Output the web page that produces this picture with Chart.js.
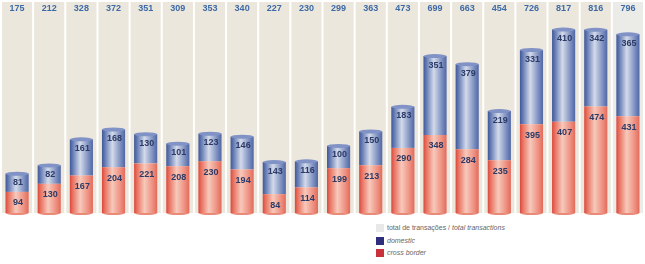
<!DOCTYPE html>
<html>
<head>
<meta charset="utf-8">
<script src="https://cdn.jsdelivr.net/npm/chart.js@4/dist/chart.umd.min.js"></script>
<style>
  body { margin: 0; background: #fff; font-family: "Liberation Sans", Arial, sans-serif; }
  #wrap { position: relative; width: 645px; height: 215px; }
  #legend { position: absolute; left: 376px; top: 224px; font-size: 7px; color: #666; }
  #legend div { height: 12.5px; line-height: 8px; }
  #legend span.box { display: inline-block; width: 8px; height: 8px; vertical-align: top; margin-right: 3px; }
</style>
</head>
<body>
<div id="wrap"><canvas id="chart" width="645" height="215"></canvas></div>
<div id="legend">
  <div><span class="box" style="background:#e8e8e8"></span>total de transações / <i>total transactions</i></div>
  <div><span class="box" style="background:#2e2f7c"></span><i>domestic</i></div>
  <div><span class="box" style="background:#c9323c"></span><i>cross border</i></div>
</div>
<script>
/* --------------- Data --------------- */
const categories = ["1", "2", "3", "4", "5", "6", "7", "8", "9", "10", "11", "12", "13", "14", "15", "16", "17", "18", "19", "20"];
const totals = [175, 212, 328, 372, 351, 309, 353, 340, 227, 230, 299, 363, 473, 699, 663, 454, 726, 817, 816, 796];
const domestic = [81, 82, 161, 168, 130, 101, 123, 146, 143, 116, 100, 150, 183, 351, 379, 219, 331, 410, 342, 365];
const crossBorder = [94, 130, 167, 204, 221, 208, 230, 194, 84, 114, 199, 213, 290, 348, 284, 235, 395, 407, 474, 431];
const yMax = 940;
const barPct = 0.72;

/* --------------- Cylinder gradients --------------- */
const redStops = [[0, "#d9483c"], [0.12, "#e8705f"], [0.45, "#f7c9bb"], [0.8, "#ee8f7f"], [1, "#e26a5a"]];
const blueStops = [[0, "#3f5897"], [0.12, "#6178b2"], [0.45, "#d3daea"], [0.8, "#7c8fc0"], [1, "#4f66a5"]];

const colorFor = (stops) => (context) => {
  const x = context.chart.scales.x;
  if (!x || context.dataIndex === undefined) return stops[2][1];
  const cx = x.getPixelForValue(context.dataIndex);
  const w = (x.width / categories.length) * barPct;
  if (!isFinite(cx) || !isFinite(w) || w <= 0) return stops[2][1];
  const g = context.chart.ctx.createLinearGradient(cx - w / 2, 0, cx + w / 2, 0);
  stops.forEach(([p, c]) => g.addColorStop(p, c));
  return g;
};

/* --------------- Plugin: beige columns, caps, labels --------------- */
const decor = {
  id: "decor",
  beforeDatasetsDraw(chart) {
    const { ctx, chartArea, scales } = chart;
    const step = scales.x.width / categories.length;
    ctx.save();
    categories.forEach((_, i) => {
      const cx = scales.x.getPixelForValue(i);
      ctx.fillStyle = i === categories.length - 1 ? "#ebebe7" : "#ece7dc";
      ctx.fillRect(cx - step / 2 + 1, chartArea.top, step - 2, chartArea.bottom - chartArea.top);
    });
    ctx.restore();
  },
  afterDatasetsDraw(chart) {
    const { ctx, chartArea, scales } = chart;
    const redMeta = chart.getDatasetMeta(0);
    const blueMeta = chart.getDatasetMeta(1);
    ctx.save();
    ctx.textAlign = "center";
    ctx.textBaseline = "middle";
    categories.forEach((_, i) => {
      const cx = scales.x.getPixelForValue(i);
      const red = redMeta.data[i];
      const blue = blueMeta.data[i];
      const w = blue.width;
      // top cap ellipse
      ctx.beginPath();
      ctx.ellipse(blue.x, blue.y, w / 2, 2, 0, 0, Math.PI * 2);
      ctx.fillStyle = "#8193c6";
      ctx.fill();
      // bottom rounding
      ctx.beginPath();
      ctx.ellipse(red.x, chartArea.bottom, w / 2, 2, 0, 0, Math.PI);
      ctx.fillStyle = "#ea8a79";
      ctx.fill();
      // values
      ctx.font = "bold 9px 'Liberation Sans', Arial, sans-serif";
      ctx.fillStyle = "#2b3a66";
      ctx.fillText(domestic[i], blue.x + 1, blue.y + 9);
      ctx.fillText(crossBorder[i], red.x + 1, red.y + 11);
      ctx.fillStyle = "#3d6aa6";
      ctx.fillText(totals[i], cx, 9);
    });
    ctx.restore();
  },
};

/* --------------- Chart --------------- */
const chart = new Chart(document.getElementById("chart"), {
  type: "bar",
  plugins: [decor],
  data: {
    labels: categories,
    datasets: [
      { label: "cross border", data: crossBorder, backgroundColor: colorFor(redStops) },
      { label: "domestic", data: domestic, backgroundColor: colorFor(blueStops) },
    ],
  },
  options: {
    responsive: false,
    animation: false,
    layout: { padding: { left: 1, right: 1, top: 2, bottom: 2 } },
    datasets: { bar: { barPercentage: barPct, categoryPercentage: 1 } },
    scales: {
      x: { stacked: true, display: false, offset: true },
      y: { stacked: true, display: false, min: 0, max: yMax },
    },
    plugins: { legend: { display: false }, tooltip: { enabled: false } },
  },
});
chart.update();
</script>
</body>
</html>
